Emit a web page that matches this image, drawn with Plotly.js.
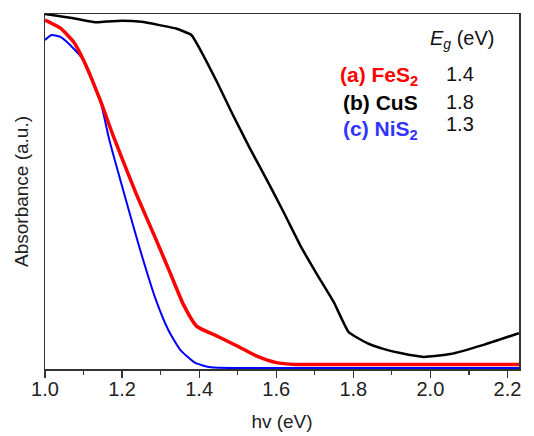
<!DOCTYPE html>
<html>
<head>
<meta charset="utf-8">
<script src="https://cdn.plot.ly/plotly-3.0.1.min.js"></script>
<style>html,body{margin:0;padding:0;background:#fff;}#chart{width:534px;height:436px;}</style>
</head>
<body>
<div id="chart"></div>
<script>
// CuS (black)
const cusHv = [1.00, 1.074, 1.13, 1.16, 1.20, 1.25, 1.30, 1.34, 1.38, 1.403, 1.446, 1.488, 1.53, 1.576, 1.62, 1.662, 1.705, 1.749, 1.788, 1.836, 1.88, 1.922, 1.983, 2.052, 2.138, 2.23];
const cusAbs = [1.000, 0.988, 0.977, 0.979, 0.981, 0.978, 0.968, 0.959, 0.941, 0.899, 0.809, 0.715, 0.625, 0.532, 0.44, 0.349, 0.268, 0.189, 0.104, 0.073, 0.056, 0.045, 0.034, 0.042, 0.068, 0.101];
// FeS2 (red)
const fesHv = [1.00, 1.04, 1.074, 1.10, 1.143, 1.18, 1.238, 1.286, 1.325, 1.359, 1.394, 1.45, 1.50, 1.55, 1.60, 1.65, 1.80, 2.00, 2.23];
const fesAbs = [0.983, 0.96, 0.922, 0.87, 0.758, 0.648, 0.49, 0.37, 0.27, 0.182, 0.12, 0.091, 0.064, 0.036, 0.018, 0.013, 0.013, 0.013, 0.013];
// NiS2 (blue)
const nisHv = [1.00, 1.017, 1.039, 1.074, 1.10, 1.143, 1.167, 1.21, 1.247, 1.288, 1.32, 1.351, 1.39, 1.43, 1.50, 1.80, 2.23];
const nisAbs = [0.927, 0.941, 0.936, 0.903, 0.87, 0.758, 0.645, 0.476, 0.335, 0.194, 0.110, 0.054, 0.017, 0.005, 0.003, 0.003, 0.003];

const labels = ['(a) FeS<sub>2</sub>', '(b) CuS', '(c) NiS<sub>2</sub>'];
const bandGaps = ['1.4', '1.8', '1.3'];
const colors = ['#ff0000', '#000000', '#3333ff'];

const FONT = 'Arial, "Liberation Sans", sans-serif';

const traces = [
  {x: nisHv, y: nisAbs, mode: 'lines', line: {color: '#0000ff', width: 2, shape: 'spline', smoothing: 0.5}, hoverinfo: 'skip'},
  {x: cusHv, y: cusAbs, mode: 'lines', line: {color: '#000000', width: 2.5, shape: 'spline', smoothing: 0.4}, hoverinfo: 'skip'},
  {x: fesHv, y: fesAbs, mode: 'lines', line: {color: '#ff0000', width: 3.5, shape: 'spline', smoothing: 0.5}, hoverinfo: 'skip'}
];

const labelY = [0.825, 0.750, 0.672];
const gapY = [0.830, 0.752, 0.690];
const annotations = [
  {x: 1.995, y: 0.927, xref: 'x', yref: 'y', xanchor: 'left', yanchor: 'middle', showarrow: false,
   text: '<i>E</i><sub><i>g</i></sub> (eV)', font: {family: FONT, size: 20, color: '#111'}}
];
for (let i = 0; i < labels.length; i++) {
  annotations.push({x: 1.974, y: labelY[i], xref: 'x', yref: 'y', xanchor: 'right', yanchor: 'middle', showarrow: false,
    text: '<b>' + labels[i] + '</b>', font: {family: FONT, size: 21, color: colors[i]}});
  annotations.push({x: 2.037, y: gapY[i], xref: 'x', yref: 'y', xanchor: 'left', yanchor: 'middle', showarrow: false,
    text: bandGaps[i], font: {family: FONT, size: 20, color: '#111'}, borderpad: 0});
}

const layout = {
  width: 534, height: 436,
  margin: {l: 45, r: 15, t: 14, b: 67},
  paper_bgcolor: '#fff', plot_bgcolor: '#fff',
  showlegend: false,
  font: {family: FONT, color: '#222'},
  xaxis: {
    range: [1.0, 2.23], tick0: 1.0, dtick: 0.2, tickformat: '.1f',
    ticks: 'outside', ticklen: 7, tickwidth: 1.3, tickcolor: '#333',
    ticklabelstandoff: -6,
    minor: {dtick: 0.1, ticks: 'outside', ticklen: 4, tickwidth: 1.2, tickcolor: '#333', showgrid: false},
    showline: true, linecolor: '#333', linewidth: 1.5, mirror: true,
    showgrid: false, zeroline: false,
    tickfont: {family: FONT, size: 20, color: '#222'},
    title: {text: 'hv (eV)', font: {family: FONT, size: 19, color: '#222'}, standoff: 16}
  },
  yaxis: {
    range: [0, 1.0],
    showticklabels: false, ticks: '',
    showline: true, linecolor: '#333', linewidth: 1.5, mirror: true,
    showgrid: false, zeroline: false,
    title: {text: 'Absorbance (a.u.)', font: {family: FONT, size: 19, color: '#222'}, standoff: 10}
  },
  annotations: annotations
};

Plotly.newPlot('chart', traces, layout, {displayModeBar: false, staticPlot: true});
</script>
</body>
</html>
